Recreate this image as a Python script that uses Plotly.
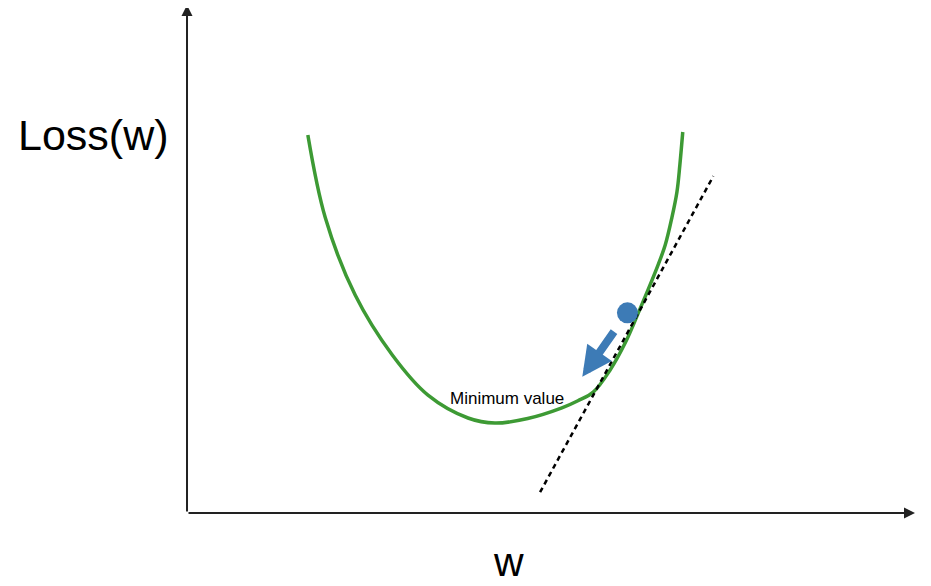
import plotly.graph_objects as go

# Loss curve samples (w, loss)
w_vals = [16.6, 19.0, 23.1, 28.2, 33.1, 38.6, 42.3,
          46.8, 51.5, 53.7, 55.8, 58.1, 60.2, 62.0, 64.7, 65.7, 66.6, 67.3, 67.7, 68.1]
loss_vals = [74.4, 58.1, 42.9, 31.1, 23.2, 18.7, 17.7,
             18.6, 20.7, 22.1, 23.8, 28.1, 33.5, 39.4, 48.8, 52.8, 58.1, 63.2, 68.5, 75.0]

# Tangent line end points
tangent_w = [48.5, 72.3]
tangent_loss = [4.1, 66.3]

# Current point (ball) and gradient step arrow
ball_w = [60.5]
ball_loss = [39.4]
step_from = (58.8, 36.0)
step_to = (54.3, 26.8)

# Axis extents
axis_max_w = 100
axis_max_loss = 100

labels = {"y": "Loss(w)", "x": "w", "min": "Minimum value"}
label_pos = {"y": (-12.9, 74.4), "x": (44.1, -9.6), "min": (44.0, 22.6)}

fig = go.Figure()
fig.add_trace(go.Scatter(x=w_vals, y=loss_vals, mode="lines",
                         line=dict(color="#3d9a34", width=3.5, shape="spline", smoothing=1.0),
                         hoverinfo="skip"))
fig.add_trace(go.Scatter(x=tangent_w, y=tangent_loss, mode="lines",
                         line=dict(color="black", width=2.5, dash="5px,4px"), hoverinfo="skip"))
fig.add_trace(go.Scatter(x=ball_w, y=ball_loss, mode="markers",
                         marker=dict(color="#3d7bb6", size=21), hoverinfo="skip"))

# axes arrows
fig.add_annotation(x=axis_max_w, y=0, ax=0, ay=0, xref="x", yref="y", axref="x", ayref="y",
                   showarrow=True, arrowhead=2, arrowsize=1.1, arrowwidth=2, arrowcolor="#222", text="")
fig.add_annotation(x=0, y=axis_max_loss, ax=0, ay=0, xref="x", yref="y", axref="x", ayref="y",
                   showarrow=True, arrowhead=2, arrowsize=1.1, arrowwidth=2, arrowcolor="#222", text="")
# step arrow
fig.add_annotation(x=step_to[0], y=step_to[1], ax=step_from[0], ay=step_from[1],
                   xref="x", yref="y", axref="x", ayref="y",
                   showarrow=True, arrowhead=2, arrowsize=0.75, arrowwidth=8, arrowcolor="#3d7bb6", text="")

fig.add_annotation(x=label_pos["y"][0], y=label_pos["y"][1], text=labels["y"], showarrow=False,
                   font=dict(family="Liberation Sans, Arial", size=43, color="black"))
fig.add_annotation(x=label_pos["x"][0], y=label_pos["x"][1], text=labels["x"], showarrow=False,
                   font=dict(family="Liberation Sans, Arial", size=41, color="black"))
fig.add_annotation(x=label_pos["min"][0], y=label_pos["min"][1], text=labels["min"], showarrow=False,
                   font=dict(family="Liberation Sans, Arial", size=17, color="black"))

# page body has an 8px margin, so the figure spans page pixels 8..931 / 8..586
fig.update_layout(
    width=923, height=578, margin=dict(l=0, r=0, t=0, b=0),
    plot_bgcolor="white", paper_bgcolor="white", showlegend=False,
    xaxis=dict(range=[-24.59, 102.2], visible=False),
    yaxis=dict(range=[-14.37, 99.41], visible=False),
)
fig.write_html("out.html")
